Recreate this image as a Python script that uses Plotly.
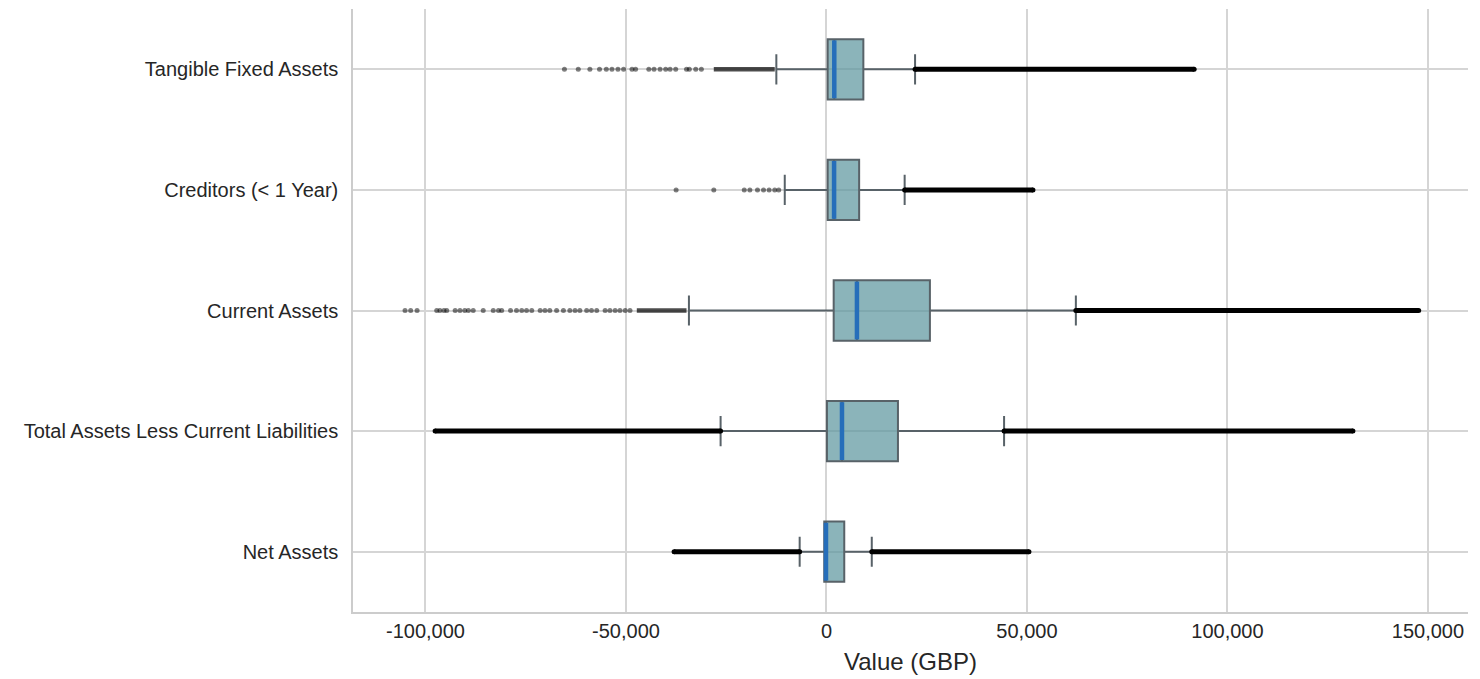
import plotly.graph_objects as go

# ---------------- data ----------------
categories = [
    "Tangible Fixed Assets",
    "Creditors (< 1 Year)",
    "Current Assets",
    "Total Assets Less Current Liabilities",
    "Net Assets",
]
q1 = [300, 300, 1800, 120, -550]
median = [1950, 1900, 7600, 3870, -120]
q3 = [9200, 8150, 25800, 17830, 4440]
lower_whisker = [-12500, -10400, -34300, -26400, -6680]
upper_whisker = [22100, 19500, 62200, 44300, 11300]

# individually visible outliers
tfa_outliers = [-65350, -61900, -59000, -56600, -54900, -53500, -52000, -50600,
                -48500, -47600, -44300, -43000, -41500, -40100, -39000, -37600,
                -34900, -34200, -32600, -31200]
cred_outliers = [-37500, -28100, -20500, -19100, -17200, -15700, -14300,
                 -12900, -11900]
ca_outliers = [-105100, -103700, -102100, -97200, -96400, -95400, -94700,
               -92600, -91400, -90200, -89300, -88100, -85600, -83100, -81800,
               -81000, -78800, -77300, -76000, -74800, -73500, -71400, -70200,
               -69000, -67300, -65600, -64000, -62700, -61500, -59800, -58600,
               -57300, -55200, -54000, -52700, -51500, -50200, -49000]

# ranges where outliers overlap into a near-continuous band
cluster_cat = [0, 2]
cluster_start = [-28100, -47300]
cluster_end = [-12900, -34900]

# ranges where outliers merge into a solid band
band_cat = [0, 1, 3, 3, 2, 4, 4]
band_start = [22100, 19500, -97600, 44300, 62200, -38000, 11300]
band_end = [91700, 51500, -26400, 131300, 147700, -6680, 50500]

x_ticks = [-100000, -50000, 0, 50000, 100000, 150000]
x_tick_labels = ["-100,000", "-50,000", "0", "50,000", "100,000", "150,000"]
x_range = [-118080, 160000]

title_text = "Distribution of Key Financial Metrics (Excluding Extreme Outliers)"

# ---------------- styles ----------------
FONT = "Arial, 'Liberation Sans', sans-serif"
TEXT = "#262626"
GRID = "#d5d5d5"
BOX_FILL = "rgba(90,148,156,0.7)"
BOX_LINE = "rgb(88,98,104)"
MEDIAN = "rgb(38,110,186)"
HALF = 0.25

fig = go.Figure()

# outlier bands first (under the whiskers)
for c, s, e in zip(band_cat, band_start, band_end):
    fig.add_trace(go.Scatter(
        x=[s, e], y=[c, c], mode="lines+markers",
        line=dict(color="black", width=5),
        marker=dict(color="black", size=5),
        hoverinfo="skip", showlegend=False))
for c, s, e in zip(cluster_cat, cluster_start, cluster_end):
    fig.add_trace(go.Scatter(
        x=[s, e], y=[c, c], mode="lines",
        line=dict(color="rgba(0,0,0,0.7)", width=4.5),
        hoverinfo="skip", showlegend=False))
for c, vals in [(0, tfa_outliers), (1, cred_outliers), (2, ca_outliers)]:
    fig.add_trace(go.Scatter(
        x=vals, y=[c] * len(vals), mode="markers",
        marker=dict(color="rgba(0,0,0,0.5)", size=5, line=dict(width=0)),
        hoverinfo="skip", showlegend=False))

# boxes
for i, cat in enumerate(categories):
    fig.add_trace(go.Box(
        y=[i], q1=[q1[i]], median=[median[i]], q3=[q3[i]],
        lowerfence=[lower_whisker[i]], upperfence=[upper_whisker[i]],
        orientation="h", width=2 * HALF, whiskerwidth=0.5,
        fillcolor=BOX_FILL, line=dict(color=BOX_LINE, width=2),
        boxpoints=False, name=cat, showlegend=False, hoverinfo="skip"))

# median lines
for i in range(len(categories)):
    fig.add_trace(go.Scatter(
        x=[median[i], median[i]], y=[i - HALF + 0.01, i + HALF - 0.01],
        mode="lines", line=dict(color=MEDIAN, width=4.5),
        hoverinfo="skip", showlegend=False))

fig.add_annotation(
    text=title_text, xref="paper", yref="paper", x=0.5, y=1,
    xanchor="center", yanchor="bottom", yshift=6, showarrow=False,
    font=dict(family=FONT, size=26, color=TEXT))

fig.update_layout(
    width=1480, height=679,
    margin=dict(l=353, r=12, t=9, b=67),
    paper_bgcolor="white", plot_bgcolor="white",
    font=dict(family=FONT, color=TEXT),
    showlegend=False,
    xaxis=dict(
        range=x_range, tickvals=x_ticks, ticktext=x_tick_labels,
        showgrid=True, gridcolor=GRID, gridwidth=1.5,
        zeroline=False, showline=True, linecolor="#cccccc", linewidth=1.5,
        ticks="", tickfont=dict(size=20, color=TEXT),
        title=dict(text="Value (GBP)", font=dict(size=24, color=TEXT), standoff=12),
    ),
    yaxis=dict(
        range=[len(categories) - 0.5, -0.5],
        tickvals=list(range(len(categories))), ticktext=categories,
        showgrid=True, gridcolor=GRID, gridwidth=1.5,
        zeroline=False, showline=True, linecolor="#cccccc", linewidth=1.5,
        ticks="", ticklabelstandoff=9, tickfont=dict(size=20, color=TEXT),
    ),
)

fig.write_html("out.html")
